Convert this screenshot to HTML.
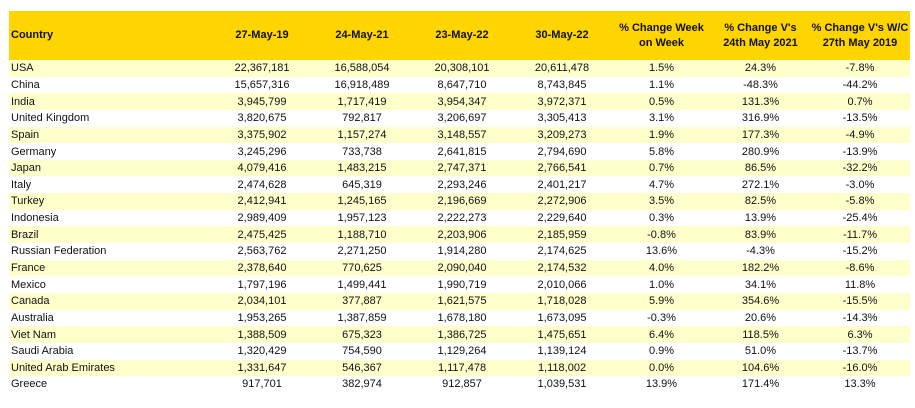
<!DOCTYPE html>
<html><head><meta charset="utf-8"><style>
body{margin:0;background:#fff;width:915px;height:408px;overflow:hidden;font-family:"Liberation Sans",Arial,sans-serif;}
table{position:absolute;left:9px;top:11px;border-collapse:collapse;table-layout:fixed;width:901px;}
td{padding:0;font-size:11px;color:#111;text-align:center;white-space:nowrap;height:16.65px;line-height:16px;}
td:first-child{text-align:left;padding-left:2px;}
thead td{background:#FFD500;font-weight:bold;height:49px;line-height:15px;font-size:11px;}
tbody tr:nth-child(odd) td{background:#FFFFCC;}
</style></head><body>
<table>
<colgroup><col style="width:203px"><col style="width:100px"><col style="width:100px"><col style="width:100px"><col style="width:100px"><col style="width:99px"><col style="width:99px"><col style="width:100px"></colgroup>
<thead><tr><td>Country</td><td>27-May-19</td><td>24-May-21</td><td>23-May-22</td><td>30-May-22</td><td>% Change Week<br>on Week</td><td>% Change V's<br>24th May 2021</td><td>% Change V's W/C<br>27th May 2019</td></tr></thead>
<tbody>
<tr><td>USA</td><td>22,367,181</td><td>16,588,054</td><td>20,308,101</td><td>20,611,478</td><td>1.5%</td><td>24.3%</td><td>-7.8%</td></tr>
<tr><td>China</td><td>15,657,316</td><td>16,918,489</td><td>8,647,710</td><td>8,743,845</td><td>1.1%</td><td>-48.3%</td><td>-44.2%</td></tr>
<tr><td>India</td><td>3,945,799</td><td>1,717,419</td><td>3,954,347</td><td>3,972,371</td><td>0.5%</td><td>131.3%</td><td>0.7%</td></tr>
<tr><td>United Kingdom</td><td>3,820,675</td><td>792,817</td><td>3,206,697</td><td>3,305,413</td><td>3.1%</td><td>316.9%</td><td>-13.5%</td></tr>
<tr><td>Spain</td><td>3,375,902</td><td>1,157,274</td><td>3,148,557</td><td>3,209,273</td><td>1.9%</td><td>177.3%</td><td>-4.9%</td></tr>
<tr><td>Germany</td><td>3,245,296</td><td>733,738</td><td>2,641,815</td><td>2,794,690</td><td>5.8%</td><td>280.9%</td><td>-13.9%</td></tr>
<tr><td>Japan</td><td>4,079,416</td><td>1,483,215</td><td>2,747,371</td><td>2,766,541</td><td>0.7%</td><td>86.5%</td><td>-32.2%</td></tr>
<tr><td>Italy</td><td>2,474,628</td><td>645,319</td><td>2,293,246</td><td>2,401,217</td><td>4.7%</td><td>272.1%</td><td>-3.0%</td></tr>
<tr><td>Turkey</td><td>2,412,941</td><td>1,245,165</td><td>2,196,669</td><td>2,272,906</td><td>3.5%</td><td>82.5%</td><td>-5.8%</td></tr>
<tr><td>Indonesia</td><td>2,989,409</td><td>1,957,123</td><td>2,222,273</td><td>2,229,640</td><td>0.3%</td><td>13.9%</td><td>-25.4%</td></tr>
<tr><td>Brazil</td><td>2,475,425</td><td>1,188,710</td><td>2,203,906</td><td>2,185,959</td><td>-0.8%</td><td>83.9%</td><td>-11.7%</td></tr>
<tr><td>Russian Federation</td><td>2,563,762</td><td>2,271,250</td><td>1,914,280</td><td>2,174,625</td><td>13.6%</td><td>-4.3%</td><td>-15.2%</td></tr>
<tr><td>France</td><td>2,378,640</td><td>770,625</td><td>2,090,040</td><td>2,174,532</td><td>4.0%</td><td>182.2%</td><td>-8.6%</td></tr>
<tr><td>Mexico</td><td>1,797,196</td><td>1,499,441</td><td>1,990,719</td><td>2,010,066</td><td>1.0%</td><td>34.1%</td><td>11.8%</td></tr>
<tr><td>Canada</td><td>2,034,101</td><td>377,887</td><td>1,621,575</td><td>1,718,028</td><td>5.9%</td><td>354.6%</td><td>-15.5%</td></tr>
<tr><td>Australia</td><td>1,953,265</td><td>1,387,859</td><td>1,678,180</td><td>1,673,095</td><td>-0.3%</td><td>20.6%</td><td>-14.3%</td></tr>
<tr><td>Viet Nam</td><td>1,388,509</td><td>675,323</td><td>1,386,725</td><td>1,475,651</td><td>6.4%</td><td>118.5%</td><td>6.3%</td></tr>
<tr><td>Saudi Arabia</td><td>1,320,429</td><td>754,590</td><td>1,129,264</td><td>1,139,124</td><td>0.9%</td><td>51.0%</td><td>-13.7%</td></tr>
<tr><td>United Arab Emirates</td><td>1,331,647</td><td>546,367</td><td>1,117,478</td><td>1,118,002</td><td>0.0%</td><td>104.6%</td><td>-16.0%</td></tr>
<tr><td>Greece</td><td>917,701</td><td>382,974</td><td>912,857</td><td>1,039,531</td><td>13.9%</td><td>171.4%</td><td>13.3%</td></tr>
</tbody></table>
</body></html>
